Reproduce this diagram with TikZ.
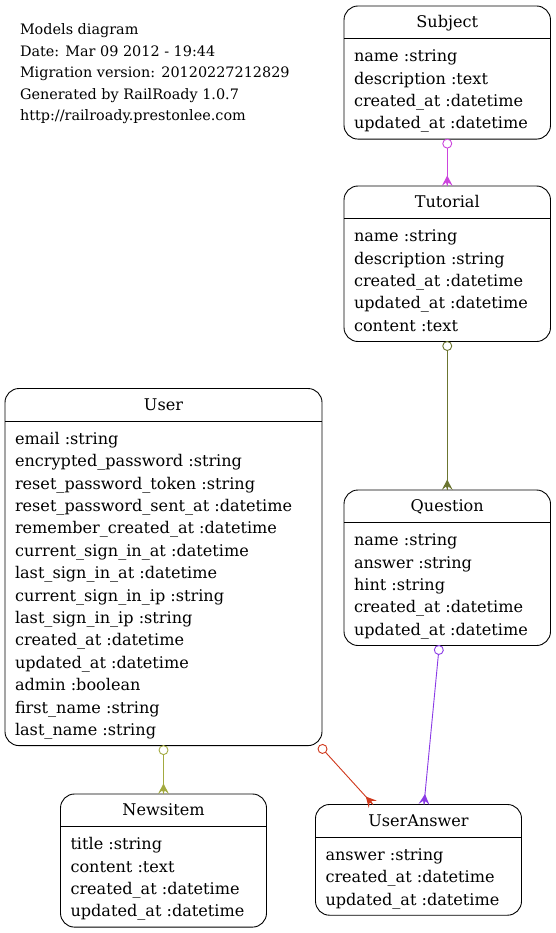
\documentclass[tikz,border=0pt]{standalone}
\usepackage{fontspec}
\setmainfont{DejaVu Serif}
\usetikzlibrary{decorations.markings}
\definecolor{cmag}{HTML}{CC44DD}
\definecolor{colive}{HTML}{6B7530}
\definecolor{cpurp}{HTML}{8A3AE6}
\definecolor{cyell}{HTML}{A3AA40}
\definecolor{cred}{HTML}{D0381C}
\tikzset{
  ebox/.style={draw=black, line width=0.9pt, rounded corners=14pt, inner sep=0pt, outer sep=0pt, fill=white},
  eline/.style={draw=black, line width=0.9pt},
  etext/.style={inner sep=0pt, outer sep=0pt, font=\fontsize{16.1}{19}\selectfont},
  htext/.style={inner sep=0pt, outer sep=0pt, font=\fontsize{14.4}{17}\selectfont},
  rel/.style={draw=#1, line width=0.9pt, postaction={decorate, decoration={markings,
     mark=at position 0 with {\draw[#1, line width=0.9pt, fill=white] (4.5pt,0) circle (4.5pt);},
     mark=at position 1 with {\fill[#1] (-10.5pt,0) -- (0,5.5pt) -- (-3.5pt,1.2pt) -- (0,0) -- (-3.5pt,-1.2pt) -- (0,-5.5pt) -- cycle;}}}},
}
\newcommand\entitybox[7]{%
  \pgfmathsetmacro\bh{32.5+22.4*#7+11}%
  \pgfmathsetmacro\bw{#3-#2}%
  \node[ebox, minimum width=\bw pt, minimum height=\bh pt, anchor=north west] (#1) at (#2,#4) {};
  \draw[eline] ([yshift=-32.5pt]#1.north west) -- ([yshift=-32.5pt]#1.north east);
  \node[etext, anchor=base] (#1-title) at ([yshift=-21.5pt]#1.north) {#5};
  \foreach \r [count=\i] in {#6} {
    \node[etext, anchor=base west] (#1-r\i) at ([xshift=10pt, yshift={-55.7pt-22.4pt*(\i-1)}]#1.north west) {\r};
  }
}
\begin{document}
\begin{tikzpicture}[x=1pt,y=-1pt]
\useasboundingbox[fill=white] (0,0) rectangle (555,933);
\node[htext, anchor=base west] (h1) at (20,34.7) {Models diagram};
\node[htext, anchor=base west] (h2) at (20,56.2) {Date: Mar 09 2012 - 19:44};
\node[htext, anchor=base west] (h3) at (20,77.7) {Migration version: 20120227212829};
\node[htext, anchor=base west] (h4) at (20,99.2) {Generated by RailRoady 1.0.7};
\node[htext, anchor=base west] (h5) at (20,120.7) {http://railroady.prestonlee.com};

\entitybox{subject}{344}{550.5}{6}{Subject}{name :string,description :text,created\_at :datetime,updated\_at :datetime}{4}
\entitybox{tutorial}{344}{550.5}{186}{Tutorial}{name :string,description :string,created\_at :datetime,updated\_at :datetime,content :text}{5}
\entitybox{question}{344}{550.5}{490}{Question}{name :string,answer :string,hint :string,created\_at :datetime,updated\_at :datetime}{5}
\entitybox{user}{5}{322}{388.5}{User}{email :string,encrypted\_password :string,reset\_password\_token :string,reset\_password\_sent\_at :datetime,remember\_created\_at :datetime,current\_sign\_in\_at :datetime,last\_sign\_in\_at :datetime,current\_sign\_in\_ip :string,last\_sign\_in\_ip :string,created\_at :datetime,updated\_at :datetime,admin :boolean,first\_name :string,last\_name :string}{14}
\entitybox{newsitem}{60.5}{266.5}{794}{Newsitem}{title :string,content :text,created\_at :datetime,updated\_at :datetime}{4}
\entitybox{useranswer}{315.5}{521.5}{804.5}{UserAnswer}{answer :string,created\_at :datetime,updated\_at :datetime}{3}

\draw[rel=cmag] (subject.south) -- (tutorial.north);
\draw[rel=colive] (tutorial.south) -- (question.north);
\draw[rel=cyell] (user.south) -- (newsitem.north);
\draw[rel=cpurp] ([xshift=-8pt]question.south) -- ([xshift=5.5pt]useranswer.north);
\draw[rel=cred] ([xshift=-2.5pt]user.south east) -- ([xshift=-45.5pt]useranswer.north);
\end{tikzpicture}
\end{document}
